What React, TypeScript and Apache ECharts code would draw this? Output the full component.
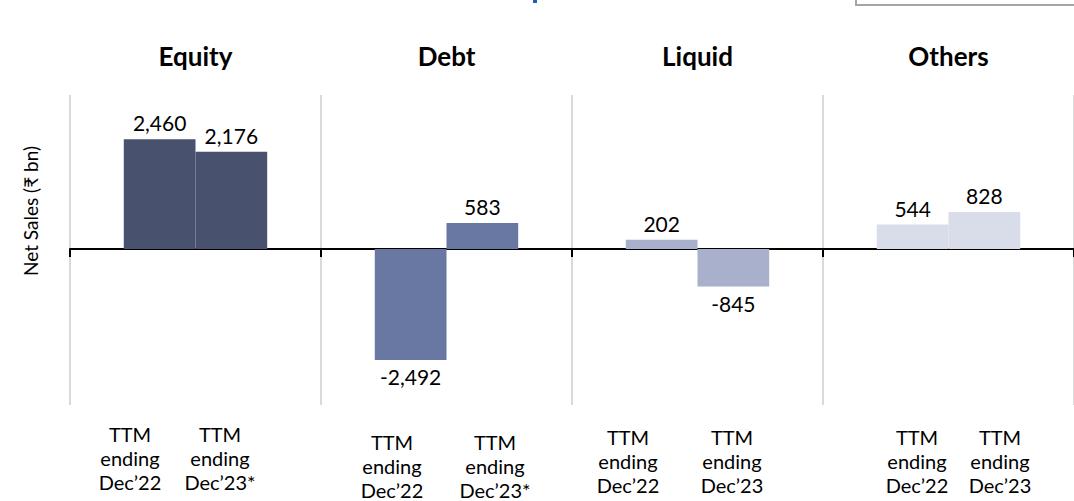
import React, { useEffect, useRef } from "react";
import * as echarts from "echarts";

const categories = ["Equity", "Debt", "Liquid", "Others"];
const ttmDec22 = [2460, -2492, 202, 544];
const ttmDec23 = [2176, 583, -845, 828];
const periodLabels = [
  ["TTM\nending\nDec’22", "TTM\nending\nDec’23*"],
  ["TTM\nending\nDec’22", "TTM\nending\nDec’23*"],
  ["TTM\nending\nDec’22", "TTM\nending\nDec’23"],
  ["TTM\nending\nDec’22", "TTM\nending\nDec’23"],
];
const axisTitle = "Net Sales (₹ bn)";
const colors = ["#48526f", "#6878a3", "#a8b0cb", "#d9dde9"];

// layout of the period labels (centre x, centre y of middle line)
const periodPos = [
  [[130, 458], [220, 458]],
  [[392, 466], [495, 466]],
  [[628, 461], [732, 461]],
  [[917, 461], [1000, 461]],
];

const FONT = "Lato, 'Noto Sans', 'DejaVu Sans', sans-serif";

const fmt = (v: number) => v.toLocaleString("en-US");

function buildSeries(values: number[], name: string) {
  return {
    type: "bar",
    name,
    xAxisIndex: 0,
    yAxisIndex: 0,
    barGap: "0%",
    barCategoryGap: "42.86%",
    data: values.map((v, i) => ({
      value: v,
      itemStyle: { color: colors[i] },
      label: { position: v < 0 ? "bottom" : "top" },
    })),
    label: {
      show: true,
      distance: 6,
      color: "#000",
      fontFamily: FONT,
      fontSize: 21,
      formatter: (p: any) => fmt(p.value),
    },
  };
}

export default function App() {
  const ref = useRef<HTMLDivElement>(null);
  useEffect(() => {
    if (!ref.current) return;
    const chart = echarts.init(ref.current, undefined, { renderer: "svg" });
    const graphics: any[] = [];
    periodLabels.forEach((pair, i) => {
      pair.forEach((txt, j) => {
        graphics.push({
          type: "text",
          x: periodPos[i][j][0],
          y: periodPos[i][j][1],
          style: {
            text: txt,
            fill: "#000",
            font: `20px ${FONT}`,
            lineHeight: 24,
            align: "center",
            verticalAlign: "middle",
          },
        });
      });
    });
    graphics.push({
      type: "text",
      x: 30,
      y: 211,
      rotation: Math.PI / 2,
      style: {
        text: axisTitle,
        fill: "#000",
        font: `19px ${FONT}`,
        align: "center",
        verticalAlign: "middle",
      },
    });
    graphics.push({
      type: "rect",
      shape: { x: 856, y: -20, width: 240, height: 25 },
      style: { fill: "none", stroke: "#a6a6a6", lineWidth: 2 },
    });
    graphics.push({
      type: "rect",
      shape: { x: 533, y: 0, width: 4, height: 3 },
      style: { fill: "#1f5fae" },
    });
    chart.setOption({
      animation: false,
      backgroundColor: "#fff",
      grid: { left: 70, right: -4, top: 95, bottom: 96, containLabel: false },
      xAxis: [
        {
          type: "category",
          data: categories,
          position: "bottom",
          axisLine: { show: true, onZero: true, lineStyle: { color: "#000", width: 2 } },
          axisTick: { show: true, length: 8, lineStyle: { color: "#000", width: 2 } },
          axisLabel: { show: false },
          splitLine: { show: true, showMinLine: true, lineStyle: { color: "#d9d9d9", width: 2 } },
        },
        {
          type: "category",
          data: categories,
          position: "top",
          axisLine: { show: false, onZero: false },
          axisTick: { show: false },
          splitLine: { show: false },
          axisLabel: {
            show: true,
            margin: 26,
            color: "#000",
            fontFamily: FONT,
            fontWeight: "bold",
            fontSize: 26,
          },
        },
      ],
      yAxis: {
        type: "value",
        min: -3500,
        max: 3450,
        axisLine: { show: false },
        axisTick: { show: false },
        axisLabel: { show: false },
        splitLine: { show: false },
      },
      series: [buildSeries(ttmDec22, "TTM ending Dec’22"), buildSeries(ttmDec23, "TTM ending Dec’23")],
      graphic: graphics,
    });
    return () => chart.dispose();
  }, []);
  return (
    <div
      ref={ref}
      style={{ position: "fixed", left: 0, top: 0, width: 1074, height: 501, background: "#fff" }}
    />
  );
}
